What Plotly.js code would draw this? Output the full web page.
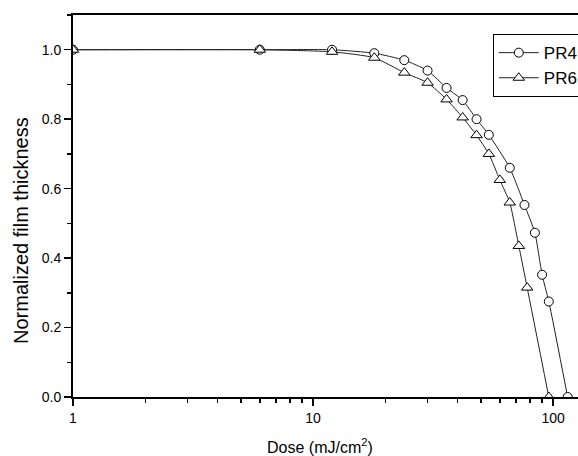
<!DOCTYPE html>
<html>
<head>
<meta charset="utf-8">
<script src="https://cdn.plot.ly/plotly-3.0.1.min.js"></script>
<style>
  html, body { margin: 0; padding: 0; overflow: hidden; background: #fff; }
  #chart { width: 600px; height: 456px; }
</style>
</head>
<body>
<div id="chart"></div>
<script>
// Data
const seriesNames = ["PR4", "PR6"];
const pr4Dose = [1, 6, 12, 18, 24, 30, 36, 42, 48, 54, 66, 76, 84, 90, 96, 115];
const pr4Thickness = [1.0, 1.0, 1.0, 0.99, 0.97, 0.94, 0.89, 0.855, 0.80, 0.755, 0.66, 0.553, 0.473, 0.352, 0.275, 0.0];
const pr6Dose = [1, 6, 12, 18, 24, 30, 36, 42, 48, 54, 60, 66, 72, 78, 96];
const pr6Thickness = [1.0, 1.0, 0.994, 0.977, 0.934, 0.905, 0.857, 0.805, 0.754, 0.70, 0.625, 0.56, 0.435, 0.315, 0.0];

const xMajorTicks = [1, 10, 100];
const xMinorTicks = [2, 3, 4, 5, 6, 7, 8, 9, 20, 30, 40, 50, 60, 70, 80, 90, 200];
const yTicks = [0, 0.2, 0.4, 0.6, 0.8, 1.0];
const yTickLabels = ["0.0", "0.2", "0.4", "0.6", "0.8", "1.0"];
const xTitle = "Dose (mJ/cm<sup>2</sup>)";
const yTitle = "Normalized film thickness";

const FONT = "Liberation Sans, Arial, Helvetica, sans-serif";

const traces = [
  {
    x: pr4Dose, y: pr4Thickness, name: seriesNames[0],
    type: "scatter", mode: "lines+markers",
    line: { color: "#222222", width: 1, shape: "spline", smoothing: 0.5 },
    marker: { symbol: "circle", size: 9, color: "#ffffff", line: { color: "#000000", width: 1 } }
  },
  {
    x: pr6Dose, y: pr6Thickness, name: seriesNames[1],
    type: "scatter", mode: "lines+markers",
    line: { color: "#222222", width: 1, shape: "spline", smoothing: 0.5 },
    marker: { symbol: "triangle-up", size: 10, color: "#ffffff", line: { color: "#000000", width: 1 } }
  }
];

const layout = {
  width: 600, height: 456,
  margin: { l: 73, r: 10, t: 15, b: 59 },
  paper_bgcolor: "#ffffff", plot_bgcolor: "#ffffff",
  font: { family: FONT, size: 14, color: "#000000" },
  showlegend: true,
  legend: {
    x: 0.812, y: 0.95, xanchor: "left", yanchor: "top",
    bordercolor: "#000000", borderwidth: 1, bgcolor: "#ffffff",
    font: { family: FONT, size: 17, color: "#000000" },
    itemwidth: 40,
    tracegroupgap: 0
  },
  xaxis: {
    type: "log", range: [0, Math.log10(142.5)],
    showline: true, linecolor: "#000000", linewidth: 2, mirror: true,
    showgrid: false, zeroline: false,
    tickmode: "array", tickvals: xMajorTicks, ticktext: xMajorTicks.map(String),
    ticks: "outside", ticklen: 7, tickwidth: 1.5, tickcolor: "#000000",
    tickfont: { family: FONT, size: 14, color: "#000000" },
    minor: { tickmode: "array", tickvals: xMinorTicks, ticks: "outside", ticklen: 4, tickwidth: 1.5, tickcolor: "#000000", showgrid: false }
  },
  yaxis: {
    range: [0, 1.1],
    showline: true, linecolor: "#000000", linewidth: 2, mirror: true,
    showgrid: false, zeroline: false,
    tickmode: "array", tickvals: yTicks, ticktext: yTickLabels,
    ticks: "outside", ticklen: 7, tickwidth: 1.5, tickcolor: "#000000",
    tickfont: { family: FONT, size: 14, color: "#000000" },
    minor: { dtick: 0.1, tick0: 0, ticks: "outside", ticklen: 4, tickwidth: 1.5, tickcolor: "#000000", showgrid: false }
  },
  annotations: [
    {
      text: xTitle, xref: "paper", yref: "paper", x: 0.478, y: 0,
      xanchor: "center", yanchor: "middle", yshift: -49, showarrow: false,
      font: { family: FONT, size: 16, color: "#000000" }
    },
    {
      text: yTitle, xref: "paper", yref: "paper", x: 0, y: 0.5,
      xanchor: "center", yanchor: "middle", xshift: -52, yshift: -25, textangle: -90, showarrow: false,
      font: { family: FONT, size: 20, color: "#000000" }
    }
  ]
};

Plotly.newPlot("chart", traces, layout, { displayModeBar: false, staticPlot: true });
</script>
</body>
</html>
